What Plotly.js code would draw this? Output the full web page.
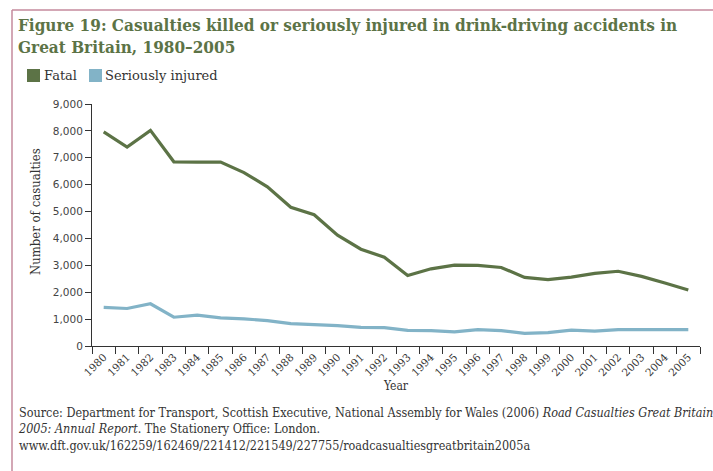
<!DOCTYPE html>
<html>
<head>
<meta charset="utf-8">
<script src="https://cdn.plot.ly/plotly-3.0.1.min.js"></script>
<style>html,body{margin:0;padding:0;background:#fff;}#chart{width:713px;height:471px;}</style>
</head>
<body>
<div id="chart"></div>
<script>
const years = ["1980","1981","1982","1983","1984","1985","1986","1987","1988","1989","1990","1991","1992","1993","1994","1995","1996","1997","1998","1999","2000","2001","2002","2003","2004","2005"];
const fatal = [7960,7400,8020,6850,6840,6840,6450,5920,5160,4880,4120,3600,3300,2620,2870,3010,3000,2920,2550,2470,2560,2700,2780,2590,2340,2080];
const seriouslyInjured = [1440,1395,1570,1070,1145,1045,1010,945,830,810,760,690,680,580,575,525,610,575,470,500,590,550,610,610,610,610];
const yTickVals = [0,1000,2000,3000,4000,5000,6000,7000,8000,9000];
const yTickText = ["0","1,000","2,000","3,000","4,000","5,000","6,000","7,000","8,000","9,000"];
const seriesNames = ["Fatal", "Seriously injured"];

const green = "#5c7346";
const blue = "#82b3c7";
const serif = "'DejaVu Serif', serif";
const serifC = "'DejaVu Serif Condensed', 'DejaVu Serif', serif";

// pixel helpers (plot area: x 92..700, y 104..346)
const px = v => (v - 92) / 608;
const py = v => (346 - v) / 242;

const traces = [
  {x: years, y: fatal, type: "scatter", mode: "lines", name: seriesNames[0],
   line: {color: green, width: 3.2}},
  {x: years, y: seriouslyInjured, type: "scatter", mode: "lines", name: seriesNames[1],
   line: {color: blue, width: 3.2}}
];

const layout = {
  width: 713, height: 471,
  margin: {l: 92, r: 13, t: 104, b: 125},
  paper_bgcolor: "#fff", plot_bgcolor: "#fff",
  showlegend: false,
  xaxis: {
    type: "category", range: [-0.5, 25.5], tickson: "boundaries",
    ticks: "outside", ticklen: 7, tickcolor: "#333", tickwidth: 1,
    showline: true, linecolor: "#333", linewidth: 1, showgrid: false, zeroline: false,
    tickangle: -45, tickfont: {family: serif, size: 10.5, color: "#333"},
    title: {text: "Year", font: {family: serifC, size: 12, color: "#333"}, standoff: 4},
    fixedrange: true
  },
  yaxis: {
    range: [0, 9000], tickvals: yTickVals, ticktext: yTickText,
    ticks: "outside", ticklen: 6, tickcolor: "#333", tickwidth: 1,
    showline: true, linecolor: "#333", linewidth: 1, showgrid: false, zeroline: false,
    tickfont: {family: "'DejaVu Sans', Verdana, sans-serif", size: 10.5, color: "#444"},
    fixedrange: true
  },
  shapes: [
    {type: "line", xref: "paper", yref: "paper", x0: px(12), x1: px(713), y0: py(10), y1: py(10),
     line: {color: "#c48a9c", width: 1.5}},
    {type: "line", xref: "paper", yref: "paper", x0: px(12), x1: px(12), y0: py(10), y1: py(471),
     line: {color: "#c48a9c", width: 1.5}},
    {type: "rect", xref: "paper", yref: "paper", x0: px(27), x1: px(40), y0: py(82), y1: py(69),
     fillcolor: green, line: {width: 0}},
    {type: "rect", xref: "paper", yref: "paper", x0: px(89), x1: px(102), y0: py(82), y1: py(69),
     fillcolor: blue, line: {width: 0}}
  ],
  annotations: [
    {xref: "paper", yref: "paper", x: px(16), y: py(13), xanchor: "left", yanchor: "top", align: "left",
     showarrow: false, font: {family: serifC, size: 17, color: green},
     text: "<b>Figure 19: Casualties killed or seriously injured in drink-driving accidents in<br>Great Britain, 1980–2005</b>"},
    {xref: "paper", yref: "paper", x: px(42), y: py(75.5), xanchor: "left", yanchor: "middle",
     showarrow: false, font: {family: serif, size: 13, color: "#333"}, text: seriesNames[0]},
    {xref: "paper", yref: "paper", x: px(103), y: py(75.5), xanchor: "left", yanchor: "middle",
     showarrow: false, font: {family: serif, size: 13, color: "#333"}, text: seriesNames[1]},
    {xref: "paper", yref: "paper", x: px(35), y: py(212), xanchor: "center", yanchor: "middle",
     textangle: -90, showarrow: false, font: {family: serifC, size: 13, color: "#333"},
     text: "Number of casualties"},
    {xref: "paper", yref: "paper", x: px(16), y: py(403), xanchor: "left", yanchor: "top", align: "left",
     showarrow: false, font: {family: serifC, size: 12.5, color: "#333"},
     text: "Source: Department for Transport, Scottish Executive, National Assembly for Wales (2006) <i>Road Casualties Great Britain</i><br><i>2005: Annual Report</i>. The Stationery Office: London.<br>www.dft.gov.uk/162259/162469/221412/221549/227755/roadcasualtiesgreatbritain2005a"}
  ]
};

Plotly.newPlot("chart", traces, layout, {displayModeBar: false, staticPlot: true});
</script>
</body>
</html>
